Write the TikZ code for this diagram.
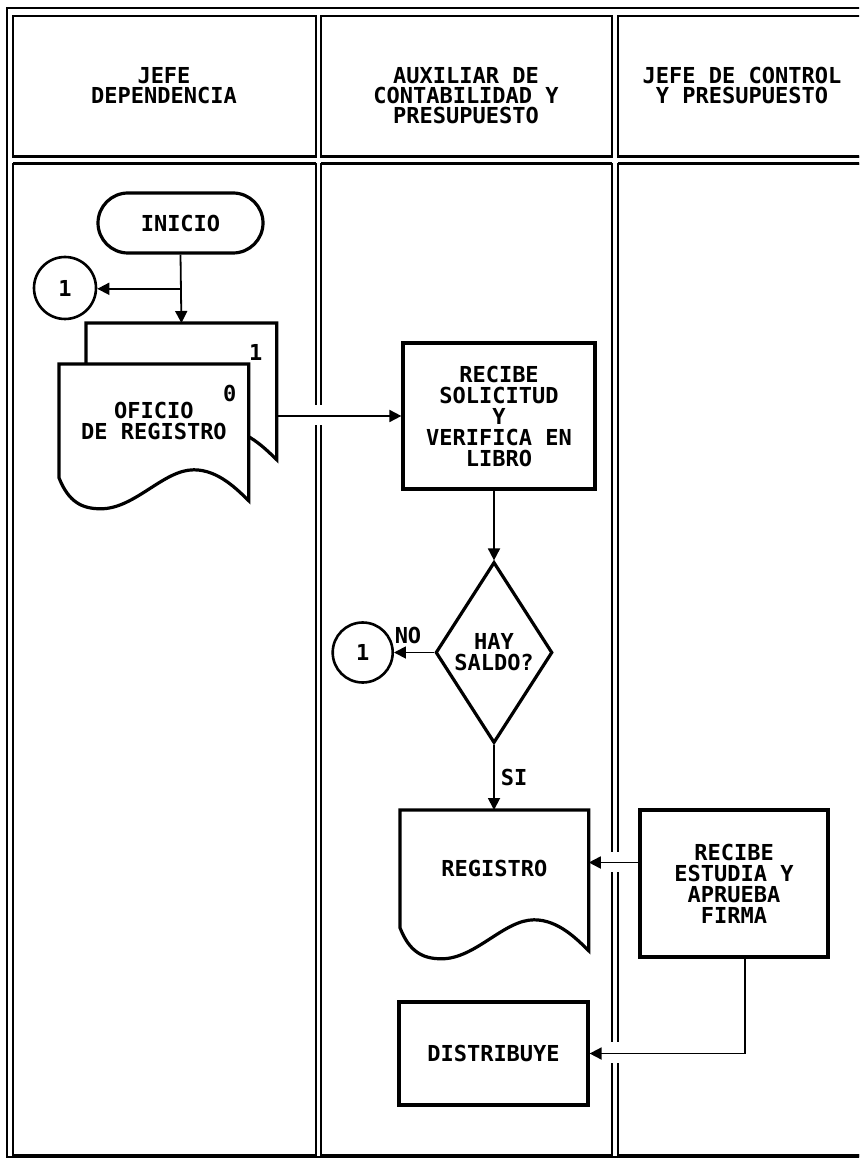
\documentclass[tikz,border=0pt]{standalone}
\usepackage{fontspec}
\usepackage{xcolor}
\usepackage{tikz}
\usetikzlibrary{arrows.meta,positioning,calc,shapes.geometric,backgrounds}
\setmonofont{DejaVu Sans Mono}
\definecolor{flowInk}{HTML}{000000}
\definecolor{flowPaper}{HTML}{FFFFFF}
\tikzset{
  laneLine/.style={draw=flowInk, line width=0.6pt},
  laneEdge/.style={draw=flowInk, line width=1.5pt},
  laneHead/.style={
    font=\ttfamily\bfseries\fontsize{11}{10}\selectfont,
    align=center,
    anchor=north,
    inner sep=0pt,
    text=flowInk
  },
  laneGap/.style={fill=flowPaper},
  flowShape/.style={draw=flowInk, line width=1.6pt},
  flowBox/.style={
    flowShape,
    fill=flowPaper,
    align=center,
    inner sep=0pt,
    font=\ttfamily\bfseries\fontsize{11}{10.5}\selectfont
  },
  flowTerm/.style={flowBox, rounded corners=15pt},
  flowDecision/.style={flowBox, diamond},
  flowConn/.style={flowBox, circle, line width=1.3pt},
  flowDoc/.style={
    anchor=north west,
    align=center,
    inner sep=0pt,
    font=\ttfamily\bfseries\fontsize{11}{10.5}\selectfont
  },
  flowArrow/.style={-{Triangle[length=6pt,width=6pt]}, line width=0.9pt, draw=flowInk},
  flowNote/.style={font=\ttfamily\bfseries\fontsize{11}{10.5}\selectfont, inner sep=0pt}
}
% document symbol with a wavy lower edge, drawn round a named node
\newcommand{\flowDocPath}[1]{%
  \path[flowShape, fill=flowPaper] (#1.north west) -- (#1.north east)
    -- ($(#1.south east)+(0,-11.5pt)$)
    .. controls ($(#1.south west)!0.94!(#1.south east)+(0,-6pt)$)
    and ($(#1.south west)!0.84!(#1.south east)+(0,4pt)$)
    .. ($(#1.south west)!0.71!(#1.south east)+(0,4pt)$)
    .. controls ($(#1.south west)!0.55!(#1.south east)+(0,4pt)$)
    and ($(#1.south west)!0.40!(#1.south east)+(0,-15.5pt)$)
    .. ($(#1.south west)!0.22!(#1.south east)+(0,-15.5pt)$)
    .. controls ($(#1.south west)!0.12!(#1.south east)+(0,-15.5pt)$)
    and ($(#1.south west)!0.05!(#1.south east)+(0,-12pt)$)
    .. (#1.south west) -- cycle;}

\begin{document}
\begin{tikzpicture}[x=0.5pt, y=-0.5pt]
    \clip (0,0) rectangle (859,1159);

    % frame and lanes
    \draw[laneLine] (7,8) rectangle (880,1157);
    \foreach \xa/\xb in {13/316, 321/612, 618/866} {
      \draw[laneLine] (\xa,16) rectangle (\xb,157);
      \draw[laneLine] (\xa,164) rectangle (\xb,1155);
      \draw[laneEdge] (\xa,157) -- (\xb,157);
      \draw[laneEdge] (\xa,164) -- (\xb,164);
      \draw[laneEdge] (\xa,1155) -- (\xb,1155);
    }

    \node[laneHead] (headJefe) at (164,67) {JEFE\\DEPENDENCIA};
    \node[laneHead] (headAux) at (466,67) {AUXILIAR DE\\CONTABILIDAD Y\\PRESUPUESTO};
    \node[laneHead] (headCtrl) at (742,67) {JEFE DE CONTROL\\Y PRESUPUESTO};

    % jefe dependencia
    \node[flowTerm, minimum width=82.5pt, minimum height=30pt] (inicio) at (180.5,223) {INICIO};
    \node[flowConn, minimum size=31pt] (conA) at (65,288) {1};

    \node[flowDoc, minimum width=95pt, minimum height=56.5pt] (docBack) at (86,323) {};
    \node[flowDoc, minimum width=94.5pt, minimum height=56.5pt] (docOficio) at (59,364) {OFICIO\\DE REGISTRO};
    \begin{scope}[on background layer]
      \flowDocPath{docBack}
      \flowDocPath{docOficio}
    \end{scope}
    \node[flowNote] (copyOne) at ($(docBack.north east)+(-10.5pt,-14.5pt)$) {1};
    \node[flowNote] (copyZero) at ($(docOficio.north east)+(-9.5pt,-14.5pt)$) {0};

    % auxiliar de contabilidad
    \node[flowBox, minimum width=96pt, minimum height=73pt] (recibe) at (499,416)
      {RECIBE\\SOLICITUD\\Y\\VERIFICA EN\\LIBRO};
    \node[flowDecision, minimum width=56pt, minimum height=90.5pt] (saldo) at (494,652.5) {HAY\\SALDO?};
    \node[flowConn, minimum size=30pt, left=20pt of saldo] (conB) {1};

    \node[flowDoc, minimum width=94pt, minimum height=58.5pt] (registro) at (400,810) {REGISTRO};
    \begin{scope}[on background layer]
      \flowDocPath{registro}
    \end{scope}
    \node[flowBox, minimum width=94.5pt, minimum height=51.5pt] (distribuye) at (493.5,1053.5) {DISTRIBUYE};

    % jefe de control
    \node[flowBox, minimum width=94pt, minimum height=73.5pt] (estudia) at (734,883.5)
      {RECIBE\\ESTUDIA Y\\APRUEBA\\FIRMA};

    % breaks in the lane lines where arrows cross
    \fill[laneGap] (312,405) rectangle (325,425);
    \fill[laneGap] (608,852) rectangle (622,872);
    \fill[laneGap] (608,1042) rectangle (622,1063);

    \draw[flowArrow] (inicio.south) -- (docBack.north);
    \coordinate (split) at ($(inicio.south)!0.5!(docBack.north)$);
    \draw[flowArrow] (split) -- (split -| conA.east);
    \draw[flowArrow] (docBack.east |- recibe.west) -- (recibe.west);
    \draw[flowArrow] (saldo.north |- recibe.south) -- (saldo.north);
    \draw[flowArrow] (saldo.west) -- node[flowNote, above=4pt, pos=0.65] {NO} (conB.east);
    \draw[flowArrow] (saldo.south) -- node[flowNote, right=3pt, pos=0.5] {SI} (saldo.south |- registro.north);
    \coordinate (estIn) at ([yshift=10.5pt]estudia.west);
    \draw[flowArrow] (estIn) -- (estIn -| registro.east);
    \draw[flowArrow] ([xshift=5.5pt]estudia.south) |- (distribuye.east);
\end{tikzpicture}
\end{document}
